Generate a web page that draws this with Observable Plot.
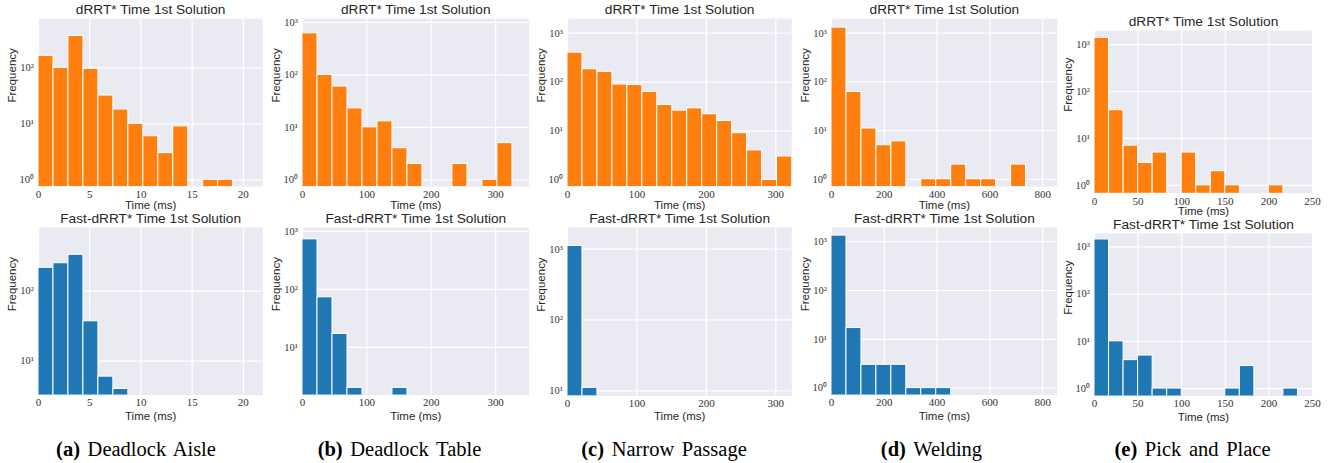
<!DOCTYPE html>
<html><head><meta charset="utf-8">
<script src="https://cdn.jsdelivr.net/npm/d3@7"></script>
<script src="https://cdn.jsdelivr.net/npm/@observablehq/plot@0.6"></script>
<style>
body{margin:0;background:#fff;}
#fig{position:relative;width:1337px;height:463px;overflow:hidden;background:#fff;}
.panel{position:absolute;}
.cap{position:absolute;top:439px;width:300px;text-align:center;font-family:"Liberation Serif",serif;font-size:20.5px;line-height:20px;color:#000;word-spacing:2.5px;white-space:nowrap;}
</style></head><body><div id="fig"></div>
<script>
// ---------- data ----------
const scenarioLetters = ["a", "b", "c", "d", "e"];
const scenarioNames = ["Deadlock Aisle", "Deadlock Table", "Narrow Passage", "Welding", "Pick and Place"];
const methodTitles = ["dRRT* Time 1st Solution", "Fast-dRRT* Time 1st Solution"];
const xLabel = "Time (ms)";
const yLabel = "Frequency";

// histogram bin width (ms) and x-axis limit (ms) per scenario
const binWidthMs = [1.462, 23.29, 21.55, 56.69, 16.667];
const xMaxMs = [21.9, 352, 323, 855, 250];
const xTickValues = [[0, 5, 10, 15, 20], [0, 100, 200, 300], [0, 100, 200, 300], [0, 200, 400, 600, 800], [0, 50, 100, 150, 200, 250]];
const yTickValues = [1, 10, 100, 1000];

// counts per bin (bin k spans k*w .. (k+1)*w)
const dRRTAisle   = [164, 100, 370, 96, 32, 18, 10, 6, 3, 9, 0, 1, 1];
const dRRTTable   = [620, 100, 60, 23, 10, 13, 4, 2, 0, 0, 2, 0, 1, 5];
const dRRTNarrow  = [400, 183, 162, 89, 87, 63, 34, 26, 29, 22, 16, 9, 4, 1, 3];
const dRRTWelding = [1300, 62, 11, 5, 6, 0, 1, 1, 2, 1, 1, 0, 2];
const dRRTPick    = [1390, 40, 7, 3, 5, 0, 5, 1, 2, 1, 0, 0, 1];

const fastAisle   = [215, 250, 330, 37, 6, 4];
const fastTable   = [730, 73, 17, 2, 0, 0, 2];
const fastNarrow  = [1110, 11];
const fastWelding = [1330, 17, 3, 3, 3, 1, 1, 1];
const fastPick    = [1435, 10, 4, 5, 1, 1, 0, 0, 0, 1, 3, 0, 0, 1];

const dRRTYDomain = [[0.76, 760], [0.745, 1190], [0.73, 2000], [0.71, 2000], [0.68, 2000]];
const fastYDomain = [[3.27, 810], [1.5, 1170], [8.5, 2020], [0.72, 1950], [0.70, 1920]];

// ---------- layout (page pixels) ----------
const frameX = [[37.7, 262], [301.7, 528.3], [566.7, 791], [831, 1056.7], [1094.3, 1312.3]];
const frameY = [
  [[17.7, 185.7], [17.7, 185.7], [17.7, 185.7], [17.7, 185.7], [30, 192.7]],
  [[226.7, 394.3], [226.7, 394.3], [226.7, 395], [226.7, 394.3], [233.3, 395.7]]
];
const xLabelOffset = [18.5, 21];
const captionCenters = [136, 399.5, 664, 931.5, 1192.5];
const colors = ["#FF7F0E", "#1F77B4"];
const M = {left: 44, right: 10, top: 26, bottom: 34};
const SANS = "'Liberation Sans', Arial, sans-serif";
const SERIF = "'Liberation Serif', 'Times New Roman', serif";

const countsByRow = [
  [dRRTAisle, dRRTTable, dRRTNarrow, dRRTWelding, dRRTPick],
  [fastAisle, fastTable, fastNarrow, fastWelding, fastPick]
];
const yDomainByRow = [dRRTYDomain, fastYDomain];
const sup = {0: "\u2070", 1: "\u00B9", 2: "\u00B2", 3: "\u00B3"};

const fig = document.getElementById("fig");

for (let row = 0; row < 2; ++row) {
  for (let i = 0; i < 5; ++i) {
    const counts = countsByRow[row][i];
    const w = binWidthMs[i];
    const bins = counts.map((c, k) => ({x1: k * w, x2: (k + 1) * w, count: c})).filter(d => d.count > 0);
    const [yLo, yHi] = yDomainByRow[row][i];
    const [fx0, fx1] = frameX[i];
    const [fy0, fy1] = frameY[row][i];
    const yt = yTickValues.filter(v => v >= yLo && v <= yHi);
    const chart = Plot.plot({
      width: fx1 - fx0 + M.left + M.right,
      height: fy1 - fy0 + M.top + M.bottom,
      marginLeft: M.left, marginRight: M.right, marginTop: M.top, marginBottom: M.bottom,
      style: {background: "transparent", overflow: "visible", fontFamily: SANS},
      x: {domain: [0, xMaxMs[i]]},
      y: {type: "log", domain: [yLo, yHi]},
      marks: [
        Plot.frame({fill: "#EAEAF2", stroke: "none"}),
        Plot.gridX({ticks: xTickValues[i], stroke: "#fff", strokeOpacity: 1, strokeWidth: 1.2}),
        Plot.gridY({ticks: yt, stroke: "#fff", strokeOpacity: 1, strokeWidth: 1.2}),
        Plot.rect(bins, {x1: "x1", x2: "x2", y1: yLo / 10, y2: "count", fill: colors[row], stroke: "#fff", strokeWidth: 1, clip: true}),
        Plot.axisX({ticks: xTickValues[i], tickSize: 0, tickPadding: 3.5, fontSize: 11, fontFamily: SERIF, fill: "#333", label: null}),
        Plot.axisY({ticks: yt, tickSize: 0, tickPadding: 4.5, fontSize: 10.5, fontFamily: SERIF, fill: "#333", label: null,
          tickFormat: d => "10" + sup[Math.round(Math.log10(d))]}),
        Plot.text([methodTitles[row]], {text: d => d, frameAnchor: "top", lineAnchor: "middle", dy: -8.6, fontSize: 13.7, fontFamily: SANS, fill: "#262626"}),
        Plot.text([xLabel], {text: d => d, frameAnchor: "bottom", lineAnchor: "middle", dy: xLabelOffset[row], fontSize: 11.5, fontFamily: SANS, fill: "#262626"}),
        Plot.text([yLabel], {text: d => d, frameAnchor: "left", lineAnchor: "middle", dx: -26, rotate: -90, fontSize: 11.5, fontFamily: SANS, fill: "#262626"})
      ]
    });
    chart.classList.add("panel");
    chart.style.left = (fx0 - M.left) + "px";
    chart.style.top = (fy0 - M.top) + "px";
    chart.style.maxWidth = "none";
    fig.appendChild(chart);
  }
}

scenarioNames.forEach((name, i) => {
  const d = document.createElement("div");
  d.className = "cap";
  d.style.left = (captionCenters[i] - 150) + "px";
  const b = document.createElement("b");
  b.textContent = "(" + scenarioLetters[i] + ")";
  d.appendChild(b);
  d.appendChild(document.createTextNode(" " + name));
  fig.appendChild(d);
});
</script></body></html>
